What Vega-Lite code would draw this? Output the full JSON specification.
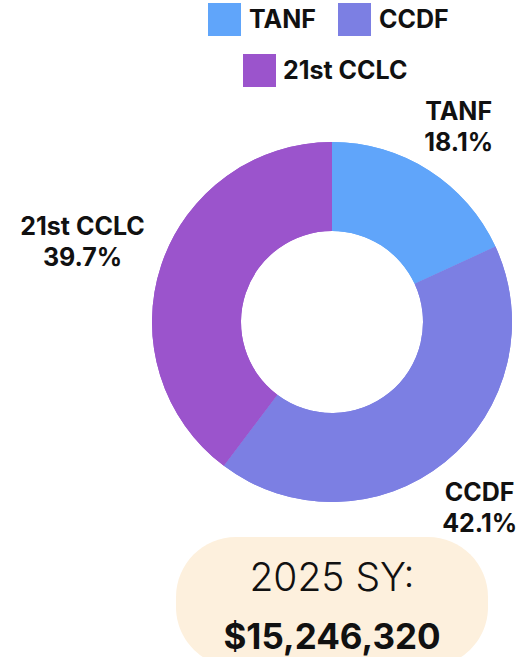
{
  "$schema": "https://vega.github.io/schema/vega-lite/v6.json",
  "autosize": {"type": "none"},
  "padding": {"left": 152, "top": 142, "right": 366, "bottom": 515},
  "background": "white",
  "config": {"view": {"stroke": null}, "font": "Inter"},
  "spacing": 35,
  "center": true,
  "bounds": "flush",
  "vconcat": [
    {
      "width": 360,
      "height": 360,
      "data": {"values": [
        {"category": "TANF", "share": 18.1, "label": "TANF\n18.1%"},
        {"category": "CCDF", "share": 42.1, "label": "CCDF\n42.1%"},
        {"category": "21st CCLC", "share": 39.7, "label": "21st CCLC\n39.7%"}
      ]},
      "layer": [
        {
          "mark": {"type": "arc", "innerRadius": 91, "outerRadius": 180},
          "encoding": {
            "theta": {"field": "share", "type": "quantitative", "stack": true},
            "order": {"field": "category", "type": "nominal", "sort": "descending"},
            "color": {
              "field": "category", "type": "nominal",
              "scale": {"domain": ["TANF", "CCDF", "21st CCLC"], "range": ["#60A5FA", "#7C7FE3", "#9B54CC"]},
              "legend": {
                "title": null, "orient": "none", "legendX": 56, "legendY": -139,
                "direction": "horizontal", "values": ["TANF", "CCDF"],
                "symbolType": "square", "symbolSize": 1089, "symbolStrokeWidth": 0,
                "labelFont": "Inter", "labelFontSize": 25, "labelFontWeight": "bold", "labelColor": "#111111",
                "labelOffset": 8, "columnPadding": 22, "padding": 0
              }
            }
          }
        },
        {
          "mark": {"type": "arc", "innerRadius": 91, "outerRadius": 180},
          "encoding": {
            "theta": {"field": "share", "type": "quantitative", "stack": true},
            "order": {"field": "category", "type": "nominal", "sort": "descending"},
            "color": {
              "field": "category", "type": "nominal",
              "scale": {"domain": ["TANF", "CCDF", "21st CCLC"], "range": ["#60A5FA", "#7C7FE3", "#9B54CC"]},
              "legend": {
                "title": null, "orient": "none", "legendX": 91, "legendY": -88,
                "direction": "horizontal", "values": ["21st CCLC"],
                "symbolType": "square", "symbolSize": 1089, "symbolStrokeWidth": 0,
                "labelFont": "Inter", "labelFontSize": 25, "labelFontWeight": "bold", "labelColor": "#111111",
                "labelOffset": 7, "padding": 0
              }
            }
          }
        },
        {
          "mark": {
            "type": "text",
            "radius": {"expr": "datum.category == '21st CCLC' ? 263 : 235"},
            "font": "Inter", "fontSize": 25, "fontWeight": "bold",
            "lineBreak": "\n", "lineHeight": 31, "color": "#111111",
            "align": "center", "baseline": "middle", "dy": -12
          },
          "encoding": {
            "theta": {"field": "share", "type": "quantitative", "stack": true},
            "order": {"field": "category", "type": "nominal", "sort": "descending"},
            "text": {"field": "label", "type": "nominal"}
          }
        }
      ],
      "resolve": {"scale": {"color": "independent"}}
    },
    {
      "width": 312,
      "height": 130,
      "view": {"fill": "#FDF0DD", "cornerRadius": 60, "stroke": null},
      "data": {"values": [{"heading": "2025 SY:", "total": "$15,246,320"}]},
      "layer": [
        {
          "mark": {"type": "text", "font": "Inter", "fontSize": 39, "fontWeight": 300, "color": "#111111", "dy": -23},
          "encoding": {"text": {"field": "heading", "type": "nominal"}}
        },
        {
          "mark": {"type": "text", "font": "Inter", "fontSize": 35, "fontWeight": "bold", "color": "#111111", "dy": 36},
          "encoding": {"text": {"field": "total", "type": "nominal"}}
        }
      ]
    }
  ]
}
